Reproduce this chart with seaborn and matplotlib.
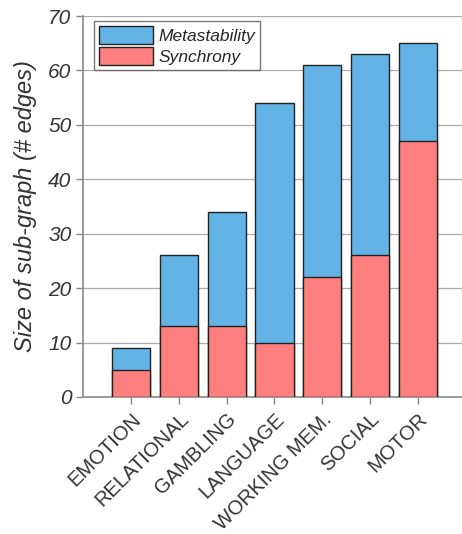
import matplotlib
matplotlib.use("Agg")
import matplotlib.pyplot as plt
import seaborn as sns
import pandas as pd
import numpy as np

categories = ["EMOTION", "RELATIONAL", "GAMBLING", "LANGUAGE", "WORKING MEM.", "SOCIAL", "MOTOR"]
synchrony = [5, 13, 13, 10, 22, 26, 47]
total = [9, 26, 34, 54, 61, 63, 65]
yticks = [0, 10, 20, 30, 40, 50, 60, 70]

sns.set_theme(style="white")
plt.rcParams['font.family'] = ['Liberation Sans', 'DejaVu Sans']

df = pd.DataFrame({"task": categories, "synchrony": synchrony, "total": total})

fig = plt.figure(figsize=(4.62, 5.34), dpi=100)
ax = fig.add_axes([0.18, 0.2566, 0.82, 0.7134])

blue = "#63b3e6"
red = "#ff7f7f"
sns.barplot(data=df, x="task", y="total", color=blue, edgecolor="#222222",
            linewidth=1.0, width=0.8, saturation=1, ax=ax, zorder=3, label="Metastability")
sns.barplot(data=df, x="task", y="synchrony", color=red, edgecolor="#222222",
            linewidth=1.0, width=0.8, saturation=1, ax=ax, zorder=3, label="Synchrony")

ax.set_ylim(0, 70)
ax.set_xlim(-1.0, 6.92)
ax.set_yticks(yticks)
ax.set_yticklabels([str(t) for t in yticks], fontsize=15, style="italic", color="#333333")
ax.set_xticks(range(len(categories)))
ax.set_xticklabels(categories, rotation=45, ha="right", rotation_mode="anchor",
                   fontsize=14.5, color="#333333")
ax.yaxis.grid(True, color="#aaaaaa", linewidth=0.9, zorder=0)
ax.set_axisbelow(True)
ax.set_xlabel("")
ax.set_ylabel("Size of sub-graph (# edges)", fontsize=17, style="italic", color="#333333",
              labelpad=8)
for s in ["top", "right"]:
    ax.spines[s].set_visible(False)
for s in ["left", "bottom"]:
    ax.spines[s].set_color("#888888")
    ax.spines[s].set_linewidth(1.2)
ax.tick_params(axis="both", direction="out", length=5, color="#888888", width=1,
               bottom=True, left=True)
ax.tick_params(axis="x", pad=4)

leg = ax.legend(loc="upper left", bbox_to_anchor=(0.015, 1.0), prop={"size": 12.5, "style": "italic"},
                frameon=True, fancybox=False, edgecolor="#555555", handlelength=3.1,
                handleheight=1.15, borderpad=0.3, labelspacing=0.2, handletextpad=0.3,
                borderaxespad=0.3)
leg.get_frame().set_linewidth(1.0)

fig.savefig("out.png", dpi=100)
